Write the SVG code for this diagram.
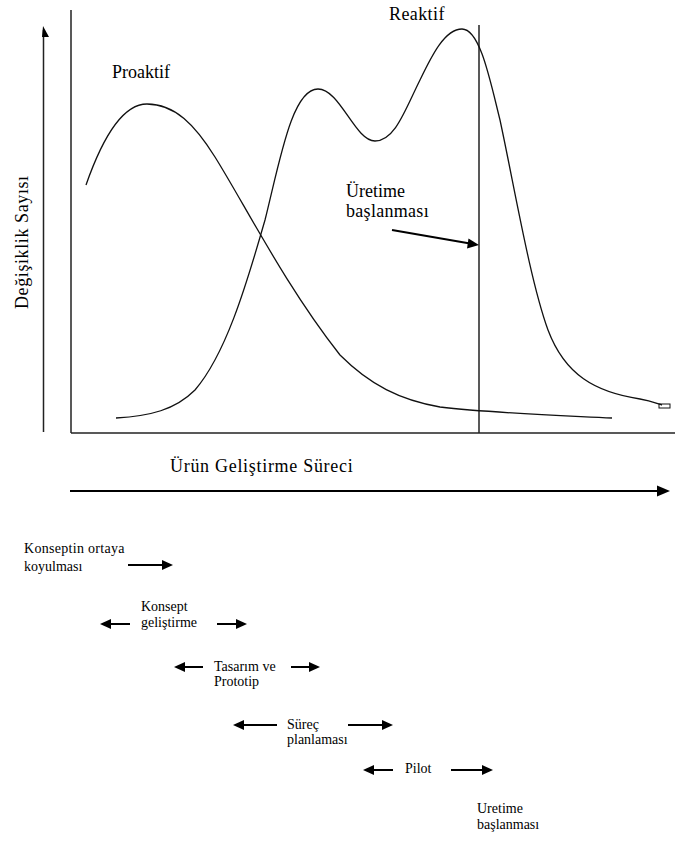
<svg xmlns="http://www.w3.org/2000/svg" width="675" height="841" viewBox="0 0 675 841">
<defs>
<style>
text{font-family:"Liberation Serif","Times New Roman",serif;fill:#000}
.lbl{font-size:18px}
.sm{font-size:14px}
.ax{stroke:#222;stroke-width:1.5;fill:none}
.crv{stroke:#111;stroke-width:1.3;fill:none}
.arr{stroke:#000;stroke-width:2;fill:none}
.hd{fill:#000}
</style>
</defs>
<rect width="675" height="841" fill="#fff"/>
<g id="frame">
<line class="ax" x1="71" y1="10" x2="71" y2="433"/>
<line class="ax" x1="71" y1="433" x2="675" y2="433"/>
<line class="ax" x1="479" y1="25" x2="479" y2="433"/>
</g>
<g id="y-axis">
<line class="ax" x1="43.5" y1="30" x2="43.5" y2="432"/>
<polygon class="hd" points="43,26 49,37 42,37"/>
<text class="lbl" transform="translate(28,309) rotate(-90)" letter-spacing="0.6">Değişiklik Sayısı</text>
</g>
<g id="proaktif">
<path class="crv" d="M86,185 C100,145 120,104 147,104 C175,104 195,125 215,157 C245,205 285,285 340,355 C370,385 400,400 440,407 C490,413 550,415 612,418"/>
<text class="lbl" x="112" y="78">Proaktif</text>
</g>
<g id="reaktif">
<path class="crv" d="M116,418 C150,416 175,410 195,390 C225,355 245,290 265,220 C280,160 292,89 318,89 C340,89 355,141 375,141 C395,141 405,110 420,80 C432,55 445,29 462,29 C480,29 490,80 500,120 C515,190 530,280 548,330 C565,375 595,392 640,399 C652,401 658,404 662,405"/>
<rect x="659" y="404" width="11" height="4" fill="none" stroke="#111" stroke-width="1"/>
<text class="lbl" x="389" y="20" letter-spacing="0.4">Reaktif</text>
</g>
<g id="uretim-label">
<text class="lbl" x="346" y="197">Üretime</text>
<text class="lbl" x="346" y="217" letter-spacing="0.3">başlanması</text>
</g>
<g id="x-axis">
<text class="lbl" x="170" y="472" letter-spacing="0.7">Ürün Geliştirme Süreci</text>
</g>
<g id="phase-konseptin">
<text class="sm" x="24" y="553" letter-spacing="0.3">Konseptin ortaya</text>
<text class="sm" x="24" y="571">koyulması</text>
</g>
<g id="phase-konsept">
<text class="sm" x="141" y="611">Konsept</text>
<text class="sm" x="141" y="627">geliştirme</text>
</g>
<g id="phase-tasarim">
<text class="sm" x="214" y="671">Tasarım ve</text>
<text class="sm" x="214" y="686">Prototip</text>
</g>
<g id="phase-surec">
<text class="sm" x="287" y="729">Süreç</text>
<text class="sm" x="287" y="744">planlaması</text>
</g>
<g id="phase-pilot">
<text class="sm" x="405" y="773">Pilot</text>
</g>
<g id="phase-uretime">
<text class="sm" x="477" y="813">Uretime</text>
<text class="sm" x="477" y="829">başlanması</text>
</g>
<g id="connectors">
<line class="arr" x1="392" y1="230" x2="470" y2="243.5"/>
<polygon class="hd" points="479,245 467,248.5 468.5,238.5"/>
<line class="arr" x1="70" y1="491" x2="660" y2="491"/>
<polygon class="hd" points="670,491 657,485.5 657,496.5"/>
<line class="arr" x1="128" y1="565" x2="163" y2="565"/>
<polygon class="hd" points="173,565 162,560 162,570"/>
<line class="arr" x1="109" y1="624" x2="130" y2="624"/>
<polygon class="hd" points="100,624 111,619 111,629"/>
<line class="arr" x1="217" y1="624" x2="238" y2="624"/>
<polygon class="hd" points="247,624 236,619 236,629"/>
<line class="arr" x1="183" y1="667" x2="203" y2="667"/>
<polygon class="hd" points="174,667 185,662 185,672"/>
<line class="arr" x1="291" y1="667" x2="311" y2="667"/>
<polygon class="hd" points="320,667 309,662 309,672"/>
<line class="arr" x1="242" y1="725" x2="277" y2="725"/>
<polygon class="hd" points="233,725 244,720 244,730"/>
<line class="arr" x1="348" y1="725" x2="384" y2="725"/>
<polygon class="hd" points="393,725 382,720 382,730"/>
<line class="arr" x1="372" y1="770" x2="393" y2="770"/>
<polygon class="hd" points="363,770 374,765 374,775"/>
<line class="arr" x1="451" y1="770" x2="484" y2="770"/>
<polygon class="hd" points="493,770 482,765 482,775"/>
</g>
</svg>
